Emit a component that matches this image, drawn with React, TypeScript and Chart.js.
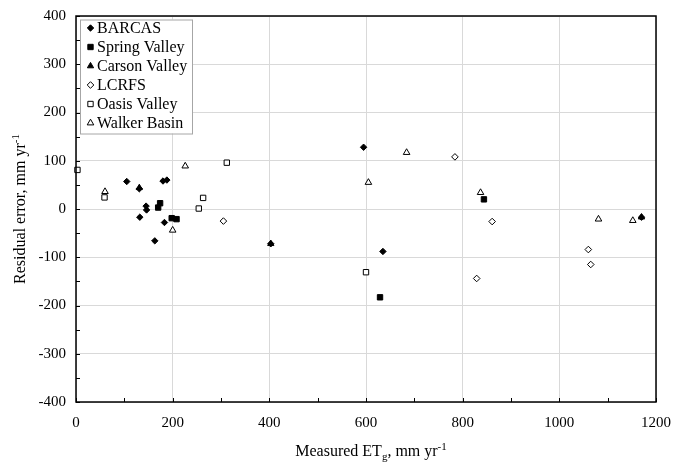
import React, { useEffect, useRef } from "react";
import { Chart, registerables } from "chart.js";

Chart.register(...registerables);

// ---- data ----
const barcasX = [105, 131, 180, 188, 145, 146, 132, 183, 163, 403, 635, 595, 1170];
const barcasY = [57, 42, 58, 60, 6, -2, -17, -28, -66, -72, -88, 128, -17];

const springX = [170, 174, 198, 208, 629, 844];
const springY = [3, 12, -19, -21, -183, 20];

const carsonX = [131, 403, 1170];
const carsonY = [44, -72, -17];

const lcrfsX = [305, 784, 861, 829, 1060, 1065];
const lcrfsY = [-25, 108, -26, -144, -84, -115];

const oasisX = [3, 59, 254, 263, 312, 600];
const oasisY = [81, 24, 1, 23, 96, -131];

const walkerX = [60, 200, 226, 605, 684, 837, 1081, 1152];
const walkerY = [36, -44, 89, 55, 117, 34, -21, -24];

const seriesNames = ["BARCAS", "Spring Valley", "Carson Valley", "LCRFS", "Oasis Valley", "Walker Basin"];
const xTitleMain = "Measured ET";
const xTitleSub = "g";
const xTitleRest = ", mm yr";
const yTitleMain = "Residual error, mm yr";
const unitSup = "-1";

const FONT = "'Liberation Serif', 'Times New Roman', serif";

const pts = (xs: number[], ys: number[]) => xs.map((x, i) => ({ x, y: ys[i] }));

type Style = { pointStyle: string; r: number; filled: boolean };
const styles: Style[] = [
  { pointStyle: "rectRot", r: 3.2, filled: true },
  { pointStyle: "rect", r: 3.8, filled: true },
  { pointStyle: "triangle", r: 3.6, filled: true },
  { pointStyle: "rectRot", r: 3.3, filled: false },
  { pointStyle: "rect", r: 3.8, filled: false },
  { pointStyle: "triangle", r: 3.8, filled: false },
];

function drawMarker(ctx: CanvasRenderingContext2D, s: Style, x: number, y: number) {
  const r = s.r;
  ctx.beginPath();
  if (s.pointStyle === "rect") {
    const h = r * Math.SQRT1_2;
    ctx.rect(x - h, y - h, 2 * h, 2 * h);
  } else if (s.pointStyle === "rectRot") {
    ctx.moveTo(x, y - r);
    ctx.lineTo(x + r, y);
    ctx.lineTo(x, y + r);
    ctx.lineTo(x - r, y);
    ctx.closePath();
  } else {
    const a = Math.PI / 6;
    ctx.moveTo(x, y - r);
    ctx.lineTo(x + r * Math.cos(a), y + r * Math.sin(a));
    ctx.lineTo(x - r * Math.cos(a), y + r * Math.sin(a));
    ctx.closePath();
  }
  ctx.fillStyle = s.filled ? "#000" : "#fff";
  ctx.fill();
  ctx.lineWidth = 1;
  ctx.strokeStyle = "#000";
  ctx.stroke();
}

const framePlugin = {
  id: "frame",
  afterDraw(chart: any) {
    const ctx: CanvasRenderingContext2D = chart.ctx;
    const { left, right, top, bottom } = chart.chartArea;
    const xs = chart.scales.x;
    const ys = chart.scales.y;
    ctx.save();
    ctx.strokeStyle = "#000";
    ctx.lineWidth = 1;
    // minor ticks inward
    for (let v = 0; v <= 1200; v += 100) {
      const px = Math.round(xs.getPixelForValue(v)) + 0.5;
      ctx.beginPath();
      ctx.moveTo(px, bottom);
      ctx.lineTo(px, bottom - 4);
      ctx.stroke();
    }
    for (let v = -400; v <= 400; v += 50) {
      const py = Math.round(ys.getPixelForValue(v)) + 0.5;
      ctx.beginPath();
      ctx.moveTo(left, py);
      ctx.lineTo(left + 4, py);
      ctx.stroke();
    }
    ctx.lineWidth = 1.5;
    ctx.strokeRect(left, top, right - left, bottom - top);

    // legend
    const lx = 80, ly = 19.5, lw = 112, lh = 114;
    ctx.fillStyle = "#fff";
    ctx.fillRect(lx, ly, lw, lh);
    ctx.lineWidth = 1;
    ctx.strokeStyle = "#a6a6a6";
    ctx.strokeRect(lx + 0.5, ly + 0.5, lw, lh);
    ctx.font = `16px ${FONT}`;
    ctx.textBaseline = "middle";
    ctx.textAlign = "left";
    seriesNames.forEach((name, i) => {
      const cy = 28 + i * 19;
      drawMarker(ctx, styles[i], 90.5, cy);
      ctx.fillStyle = "#000";
      ctx.fillText(name, 97, cy + 0.5);
    });

    // axis titles
    ctx.fillStyle = "#000";
    ctx.textBaseline = "alphabetic";
    const big = `16px ${FONT}`;
    const small = `11px ${FONT}`;
    ctx.font = big;
    const w1 = ctx.measureText(xTitleMain).width;
    const w3 = ctx.measureText(xTitleRest).width;
    ctx.font = small;
    const w2 = ctx.measureText(xTitleSub).width;
    const w4 = ctx.measureText(unitSup).width;
    const total = w1 + w2 + w3 + w4;
    let x0 = 371 - total / 2;
    const by = 456;
    ctx.font = big;
    ctx.fillText(xTitleMain, x0, by);
    x0 += w1;
    ctx.font = small;
    ctx.fillText(xTitleSub, x0, by + 4);
    x0 += w2;
    ctx.font = big;
    ctx.fillText(xTitleRest, x0, by);
    x0 += w3;
    ctx.font = small;
    ctx.fillText(unitSup, x0, by - 6);

    // y title rotated
    ctx.save();
    ctx.translate(25, 209);
    ctx.rotate(-Math.PI / 2);
    ctx.font = big;
    const yw1 = ctx.measureText(yTitleMain).width;
    ctx.font = small;
    const yw2 = ctx.measureText(unitSup).width;
    let y0 = -(yw1 + yw2) / 2;
    ctx.font = big;
    ctx.fillText(yTitleMain, y0, 0);
    y0 += yw1;
    ctx.font = small;
    ctx.fillText(unitSup, y0, -6);
    ctx.restore();
    ctx.restore();
  },
};

export default function App() {
  const ref = useRef<HTMLCanvasElement | null>(null);
  useEffect(() => {
    if (!ref.current) return;
    const sets = [
      pts(barcasX, barcasY),
      pts(springX, springY),
      pts(carsonX, carsonY),
      pts(lcrfsX, lcrfsY),
      pts(oasisX, oasisY),
      pts(walkerX, walkerY),
    ];
    const chart = new Chart(ref.current, {
      type: "scatter",
      data: {
        datasets: sets.map((d, i) => ({
          label: seriesNames[i],
          data: d,
          pointStyle: styles[i].pointStyle as any,
          pointRadius: styles[i].r,
          backgroundColor: styles[i].filled ? "#000" : "#fff",
          borderColor: "#000",
          borderWidth: 1,
          clip: false as any,
        })),
      },
      options: {
        animation: false,
        responsive: true,
        maintainAspectRatio: false,
        layout: { padding: { left: 0, right: 17, top: 16, bottom: 0 } },
        plugins: { legend: { display: false }, tooltip: { enabled: false } },
        scales: {
          x: {
            type: "linear",
            min: 0,
            max: 1200,
            ticks: {
              stepSize: 200,
              color: "#000",
              font: { family: FONT, size: 15 },
              padding: 12,
              callback: (v: any) => String(v),
            },
            grid: { color: "#d9d9d9", lineWidth: 1, drawTicks: false },
            border: { display: false },
            afterFit: (s: any) => {
              s.height = 62;
              s.paddingLeft = 0;
              s.paddingRight = 0;
            },
          },
          y: {
            type: "linear",
            min: -400,
            max: 400,
            ticks: {
              stepSize: 100,
              color: "#000",
              font: { family: FONT, size: 15 },
              padding: 10,
              callback: (v: any) => String(v),
            },
            grid: { color: "#d9d9d9", lineWidth: 1, drawTicks: false },
            border: { display: false },
            afterFit: (s: any) => {
              s.width = 76;
              s.paddingTop = 0;
              s.paddingBottom = 0;
            },
          },
        },
      },
      plugins: [framePlugin],
    });
    return () => chart.destroy();
  }, []);
  return (
    <div style={{ position: "fixed", left: 0, top: 0, width: 673, height: 464, background: "#fff" }}>
      <canvas ref={ref} />
    </div>
  );
}
